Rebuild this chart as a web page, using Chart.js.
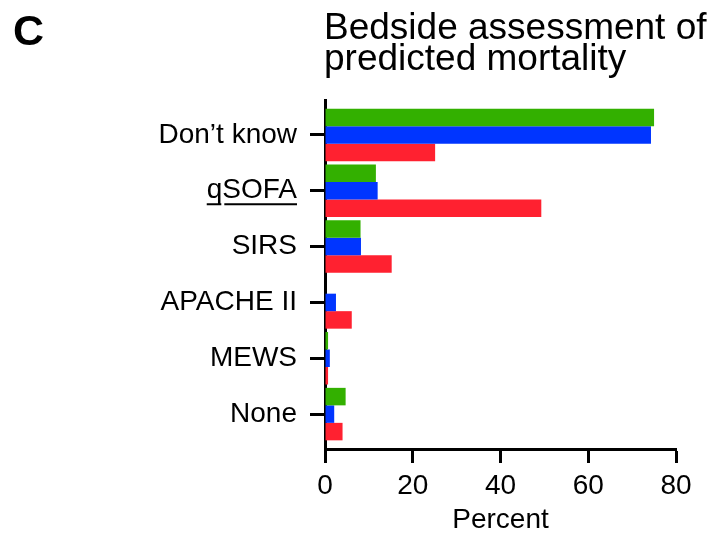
<!DOCTYPE html>
<html>
<head>
<meta charset="utf-8">
<script src="https://cdn.jsdelivr.net/npm/chart.js@4/dist/chart.umd.min.js"></script>
<style>
    body { margin: 0; background: #fff; }
    #wrap { width: 722px; height: 534px; }
</style>
</head>
<body>
<div id="wrap"><canvas id="myChart" width="722" height="534"></canvas></div>
<script>
// data
const categories = ['Don’t know', 'qSOFA', 'SIRS', 'APACHE II', 'MEWS', 'None'];
const greenValues = [75.0, 11.6, 8.1, 0, 0.7, 4.7];
const blueValues = [74.3, 12.0, 8.2, 2.5, 1.1, 2.1];
const redValues = [25.1, 49.3, 15.2, 6.1, 0.7, 4.0];
const xTicks = [0, 20, 40, 60, 80];

const FONT = "'Liberation Sans', Arial, Helvetica, sans-serif";

// title, panel letter, qSOFA underline
const extras = {
    id: 'extras',
    afterDraw(chart) {
        const ctx = chart.ctx;
        ctx.save();
        ctx.fillStyle = '#000';
        ctx.textBaseline = 'alphabetic';
        ctx.textAlign = 'left';
        ctx.font = 'bold 43px ' + FONT;
        ctx.fillText('C', 13, 45);
        ctx.font = '37px ' + FONT;
        ctx.fillText('Bedside assessment of', 324, 39);
        ctx.fillText('predicted mortality', 324, 70);

        // underline q and SOFA
        const y = chart.scales.y;
        const cy = y.getPixelForValue(1);
        ctx.font = '28px ' + FONT;
        const right = y.right - 15 - 13;
        const wAll = ctx.measureText('qSOFA').width;
        const wq = ctx.measureText('q').width;
        const left = right - wAll;
        ctx.strokeStyle = '#000';
        ctx.lineWidth = 2;
        ctx.beginPath();
        ctx.moveTo(left, cy + 13.5);
        ctx.lineTo(left + wq - 1, cy + 13.5);
        ctx.moveTo(left + wq + 2, cy + 13.5);
        ctx.lineTo(right, cy + 13.5);
        ctx.stroke();
        ctx.restore();
    }
};

const chartElem = document.getElementById('myChart').getContext('2d');

let chart = new Chart(chartElem, {
    type: 'bar',
    data: {
        labels: categories,
        datasets: [
            { data: greenValues, backgroundColor: '#33b000' },
            { data: blueValues, backgroundColor: '#0035ff' },
            { data: redValues, backgroundColor: '#ff2130' }
        ]
    },
    options: {
        indexAxis: 'y',
        responsive: false,
        animation: false,
        layout: { padding: { top: 100, right: 46, left: 0, bottom: 0 } },
        datasets: {
            bar: { barPercentage: 1.0, categoryPercentage: 0.94 }
        },
        plugins: {
            legend: { display: false },
            tooltip: { enabled: false }
        },
        scales: {
            x: {
                min: 0,
                max: 80,
                afterBuildTicks: s => { s.ticks = xTicks.map(v => ({ value: v })); },
                afterFit: s => { s.height = 85; },
                border: { display: true, color: '#000', width: 3 },
                grid: { drawOnChartArea: false, drawTicks: true, tickLength: 14, tickWidth: 3, tickColor: '#000' },
                ticks: { color: '#000', font: { family: FONT, size: 28 }, padding: 6, maxRotation: 0 },
                title: { display: true, text: 'Percent', color: '#000', font: { family: FONT, size: 28 }, padding: { top: 0, bottom: -3 } }
            },
            y: {
                afterBuildTicks: s => {
                    // leave a little extra room above the first and below the last group
                    s._startValue = s.min - 0.625;
                    s._valueRange = (s.max - s.min + 1) + 0.25;
                },
                afterFit: s => { s.width = 325; },
                border: { display: true, color: '#000', width: 3 },
                grid: { offset: false, drawOnChartArea: false, drawTicks: true, tickLength: 15, tickWidth: 3, tickColor: '#000' },
                ticks: { color: '#000', font: { family: FONT, size: 28 }, padding: 13 }
            }
        }
    },
    plugins: [extras]
});
</script>
</body>
</html>
